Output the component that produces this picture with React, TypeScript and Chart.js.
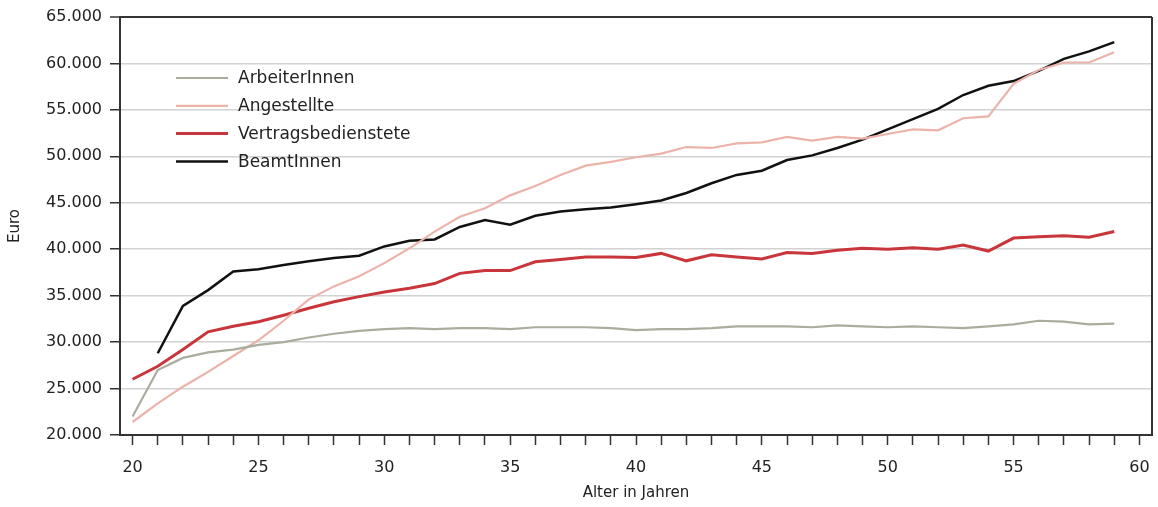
import React, { useEffect, useRef } from "react";
import { Chart, registerables } from "chart.js";

Chart.register(...registerables);

const ages = [
  20, 21, 22, 23, 24, 25, 26, 27, 28, 29,
  30, 31, 32, 33, 34, 35, 36, 37, 38, 39,
  40, 41, 42, 43, 44, 45, 46, 47, 48, 49,
  50, 51, 52, 53, 54, 55, 56, 57, 58, 59,
];

const arbeiterInnen = [
  22000, 27000, 28300, 28900, 29200, 29700, 30000, 30500, 30900, 31200,
  31400, 31500, 31400, 31500, 31500, 31400, 31600, 31600, 31600, 31500,
  31300, 31400, 31400, 31500, 31700, 31700, 31700, 31600, 31800, 31700,
  31600, 31700, 31600, 31500, 31700, 31900, 32300, 32200, 31900, 32000,
];

const angestellte = [
  21400, 23400, 25200, 26800, 28500, 30200, 32300, 34600, 36000, 37100,
  38500, 40100, 41900, 43500, 44400, 45800, 46800, 48000, 49000, 49400,
  49900, 50300, 51000, 50900, 51400, 51500, 52100, 51700, 52100, 51900,
  52400, 52900, 52800, 54100, 54300, 57800, 59300, 60100, 60100, 61200,
];

const vertragsbedienstete = [
  26000, 27400, 29200, 31100, 31700, 32200, 32900, 33650, 34350, 34900,
  35400, 35800, 36300, 37400, 37700, 37700, 38650, 38900, 39150, 39150,
  39100, 39550, 38750, 39400, 39150, 38950, 39650, 39550, 39900, 40100,
  40000, 40150, 40000, 40450, 39800, 41200, 41350, 41450, 41300, 41900,
];

const beamtInnen = [
  null, 28800, 33900, 35600, 37600, 37850, 38300, 38700, 39050, 39300,
  40300, 40900, 41050, 42400, 43150, 42650, 43600, 44050, 44300, 44500,
  44850, 45250, 46050, 47100, 48000, 48450, 49600, 50100, 50900, 51800,
  52900, 54000, 55100, 56600, 57600, 58100, 59200, 60500, 61300, 62300,
];

const seriesNames = ["ArbeiterInnen", "Angestellte", "Vertragsbedienstete", "BeamtInnen"];
const yTickValues = [20000, 25000, 30000, 35000, 40000, 45000, 50000, 55000, 60000, 65000];
const xTickValues = ages.concat([60]);

const FONT = "'DejaVu Sans', sans-serif";
const INK = "#222222";

function fmt(v: number): string {
  return String(v).replace(/\B(?=(\d{3})+(?!\d))/g, ".");
}

function toPoints(values: (number | null)[]) {
  return ages.map((a, i) => ({ x: a, y: values[i] }));
}

const legendPlugin = {
  id: "insideLegend",
  afterDatasetsDraw(chart: any) {
    const { ctx, chartArea } = chart;
    ctx.save();
    ctx.font = `17px ${FONT}`;
    ctx.textBaseline = "middle";
    ctx.textAlign = "left";
    chart.data.datasets.forEach((ds: any, i: number) => {
      const y = chartArea.top + 61 + i * 27.8;
      const x0 = chartArea.left + 56;
      ctx.beginPath();
      ctx.strokeStyle = ds.borderColor;
      ctx.lineWidth = ds.borderWidth;
      ctx.moveTo(x0, y);
      ctx.lineTo(x0 + 52, y);
      ctx.stroke();
      ctx.fillStyle = INK;
      ctx.fillText(ds.label, x0 + 62, y + 1);
    });
    ctx.restore();
  },
};

const borderPlugin = {
  id: "rightBorder",
  afterDraw(chart: any) {
    const { ctx, chartArea } = chart;
    ctx.save();
    ctx.strokeStyle = "#333333";
    ctx.lineWidth = 2;
    ctx.beginPath();
    ctx.moveTo(chartArea.right, chartArea.top);
    ctx.lineTo(chartArea.right, chartArea.bottom);
    ctx.stroke();
    ctx.restore();
  },
};

export default function App() {
  const canvasRef = useRef<HTMLCanvasElement | null>(null);

  useEffect(() => {
    if (!canvasRef.current) return;
    const chart = new Chart(canvasRef.current, {
      type: "line",
      data: {
        datasets: [
          {
            label: seriesNames[0],
            data: toPoints(arbeiterInnen),
            borderColor: "#a8ad9e",
            borderWidth: 2.2,
            pointRadius: 0,
            tension: 0,
          },
          {
            label: seriesNames[1],
            data: toPoints(angestellte),
            borderColor: "#ebb3a9",
            borderWidth: 2.2,
            pointRadius: 0,
            tension: 0,
          },
          {
            label: seriesNames[2],
            data: toPoints(vertragsbedienstete),
            borderColor: "#c8363b",
            borderWidth: 3,
            pointRadius: 0,
            tension: 0,
          },
          {
            label: seriesNames[3],
            data: toPoints(beamtInnen),
            borderColor: "#111111",
            borderWidth: 2.5,
            pointRadius: 0,
            tension: 0,
          },
        ],
      },
      options: {
        responsive: false,
        animation: false,
        layout: { padding: { top: 17, right: 6, left: 0, bottom: 0 } },
        plugins: {
          legend: { display: false },
          tooltip: { enabled: false },
        },
        scales: {
          x: {
            type: "linear",
            min: 19.5,
            max: 60.5,
            afterBuildTicks: (scale: any) => {
              scale.ticks = xTickValues.map((v) => ({ value: v }));
            },
            afterFit: (scale: any) => {
              scale.height = 72;
              scale.paddingLeft = 0;
              scale.paddingRight = 0;
            },
            ticks: {
              autoSkip: false,
              maxRotation: 0,
              padding: 13,
              color: INK,
              font: { family: FONT, size: 16 },
              callback: (v: any) => (Number(v) % 5 === 0 ? String(v) : ""),
            },
            grid: {
              drawOnChartArea: false,
              drawTicks: true,
              tickLength: 10,
              tickColor: "#333333",
              tickWidth: 1.5,
            },
            border: { display: true, color: "#333333", width: 2 },
            title: {
              display: true,
              text: "Alter in Jahren",
              color: INK,
              font: { family: FONT, size: 15 },
              padding: { top: 0, bottom: 5 },
            },
          },
          y: {
            type: "linear",
            min: 20000,
            max: 65000,
            afterBuildTicks: (scale: any) => {
              scale.ticks = yTickValues.map((v) => ({ value: v }));
            },
            afterFit: (scale: any) => {
              scale.width = 120;
              scale.paddingTop = 0;
              scale.paddingBottom = 0;
            },
            ticks: {
              padding: 8,
              color: INK,
              font: { family: FONT, size: 16 },
              callback: (v: any) => fmt(Number(v)),
            },
            grid: {
              color: (c: any) => (c.tick && c.tick.value === 65000 ? "#333333" : "#d2d2d2"),
              lineWidth: (c: any) => (c.tick && c.tick.value === 65000 ? 2 : 1.5),
              drawTicks: true,
              tickLength: 10,
              tickColor: "#333333",
              tickWidth: 1.5,
            },
            border: { display: true, color: "#333333", width: 2 },
            title: {
              display: true,
              text: "Euro",
              color: INK,
              font: { family: FONT, size: 15 },
              padding: { top: 6, bottom: 0 },
            },
          },
        },
      },
      plugins: [legendPlugin, borderPlugin],
    } as any);
    return () => chart.destroy();
  }, []);

  return (
    <div style={{ position: "absolute", left: 0, top: 0, width: 1158, height: 507, background: "#ffffff" }}>
      <canvas ref={canvasRef} width={1158} height={507} style={{ display: "block" }} />
    </div>
  );
}
